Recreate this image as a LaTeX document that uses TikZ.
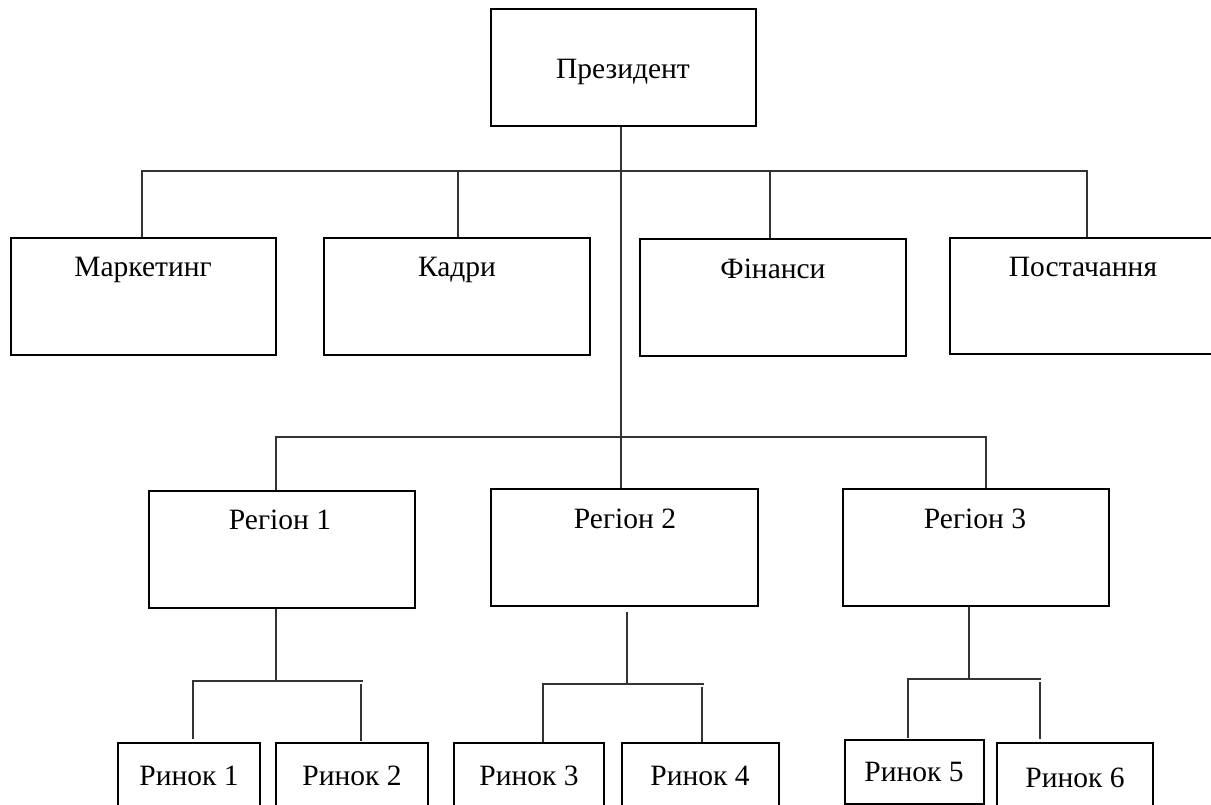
\documentclass[tikz,border=0pt]{standalone}
\usepackage{fontspec}
\setmainfont{Liberation Serif}
\begin{document}
\begin{tikzpicture}[x=1pt,y=-1pt,
  box/.style={draw, line width=1.4pt, rectangle, inner sep=0pt},
  lbl/.style={font=\fontsize{29.5}{34}\selectfont, inner sep=0pt, anchor=base},
  conn/.style={line width=1.2pt, draw=black!80}]
\useasboundingbox (0,0) rectangle (1211,805);
% boxes
\node[box, minimum width=265pt, minimum height=117pt] (pres) at (623.5,67.5) {};
\node[box, minimum width=265pt, minimum height=117pt] (mark) at (143.5,296.5) {};
\node[box, minimum width=266pt, minimum height=117pt] (kadr) at (457,296.5) {};
\node[box, minimum width=266pt, minimum height=117pt] (fin) at (773,297.5) {};
\node[box, minimum width=266pt, minimum height=116pt] (post) at (1083,296) {};
\node[box, minimum width=266pt, minimum height=117pt] (reg1) at (282,549.5) {};
\node[box, minimum width=267pt, minimum height=117pt] (reg2) at (624.5,547.5) {};
\node[box, minimum width=266pt, minimum height=117pt] (reg3) at (976,547.5) {};
\node[box, minimum width=142pt, minimum height=77pt] (r1) at (189,781.5) {};
\node[box, minimum width=152pt, minimum height=77pt] (r2) at (352,781.5) {};
\node[box, minimum width=150pt, minimum height=77pt] (r3) at (529,781.5) {};
\node[box, minimum width=157pt, minimum height=77pt] (r4) at (700.5,781.5) {};
\node[box, minimum width=139pt, minimum height=64pt] (r5) at (914.5,772) {};
\node[box, minimum width=156pt, minimum height=77pt] (r6) at (1075,781.5) {};
% texts
\node[lbl] (pres-t) at (623,79) {Президент};
\node[lbl] (mark-t) at (143,277) {Маркетинг};
\node[lbl] (kadr-t) at (457,277) {Кадри};
\node[lbl] (fin-t) at (773,279) {Фінанси};
\node[lbl] (post-t) at (1083,277) {Постачання};
\node[lbl] (reg1-t) at (280,529) {Регіон 1};
\node[lbl] (reg2-t) at (625,528) {Регіон 2};
\node[lbl] (reg3-t) at (975,528) {Регіон 3};
\node[lbl] (r1-t) at (189,785) {Ринок 1};
\node[lbl] (r2-t) at (352,785) {Ринок 2};
\node[lbl] (r3-t) at (529,785) {Ринок 3};
\node[lbl] (r4-t) at (700,785) {Ринок 4};
\node[lbl] (r5-t) at (914,781) {Ринок 5};
\node[lbl] (r6-t) at (1075,787) {Ринок 6};
% bus coordinates
\coordinate (busA) at (621,171);
\coordinate (busB) at (621,437);
% president to departments and regions
\draw[conn] (pres.south -| busA) -- (reg2.north -| busA);
\draw[conn] ([xshift=-1.5pt]mark.north) -- ([xshift=-1.5pt]mark.north |- busA) -- ([xshift=4pt]post.north |- busA) -- ([xshift=4pt]post.north);
\draw[conn] ([xshift=1pt]kadr.north) -- ([xshift=1pt]kadr.north |- busA);
\draw[conn] ([xshift=-3pt]fin.north) -- ([xshift=-3pt]fin.north |- busA);
\draw[conn] ([xshift=-6pt]reg1.north) -- ([xshift=-6pt]reg1.north |- busB) -- ([xshift=10pt]reg3.north |- busB) -- ([xshift=10pt]reg3.north);
% region 1 to markets
\coordinate (busC) at (276,681);
\coordinate (busC2) at (276,684);
\draw[conn] ([xshift=-6pt]reg1.south) -- (busC);
\draw[conn] ([xshift=4pt,yshift=3pt]r1.north) -- ([xshift=4pt]r1.north |- busC) -- ([xshift=11pt]r2.north |- busC);
\draw[conn] ([xshift=9pt,yshift=1pt]r2.north) -- ([xshift=9pt]r2.north |- busC2);
% region 2 to markets
\coordinate (busD) at (627,684);
\coordinate (busD2) at (627,687);
\draw[conn] ([xshift=2.5pt,yshift=-5pt]reg2.south) -- (busD);
\draw[conn] ([xshift=14pt]r3.north) -- ([xshift=14pt]r3.north |- busD) -- ([xshift=3pt]r4.north |- busD);
\draw[conn] ([xshift=1.5pt]r4.north) -- ([xshift=1.5pt]r4.north |- busD2);
% region 3 to markets
\coordinate (busE) at (969,679);
\coordinate (busE2) at (969,682);
\draw[conn] ([xshift=-7pt]reg3.south) -- (busE);
\draw[conn] ([xshift=-6.5pt,yshift=1pt]r5.north) -- ([xshift=-6.5pt]r5.north |- busE) -- ([xshift=-34pt]r6.north |- busE);
\draw[conn] ([xshift=-35pt,yshift=3pt]r6.north) -- ([xshift=-35pt]r6.north |- busE2);
\end{tikzpicture}
\end{document}
